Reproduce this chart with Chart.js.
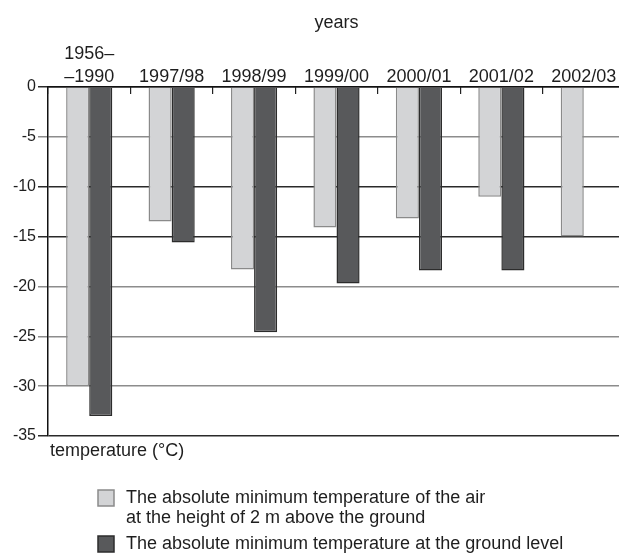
<!DOCTYPE html>
<html>
<head>
<meta charset="utf-8">
<script src="https://cdn.jsdelivr.net/npm/chart.js@4/dist/chart.umd.min.js"></script>
<style>
    html, body { margin: 0; background: #fff; overflow: hidden; }
    /* the original figure is cut a few pixels short on the right */
    #wrap { width: 619px; height: 554px; overflow: hidden; }
</style>
</head>
<body>
<div id="wrap"><canvas id="tempChart" width="625" height="554"></canvas></div>
<script>
// Winter seasons (x categories)
const seasons = [['1956\u2013', '\u20131990'], '1997/98', '1998/99', '1999/00', '2000/01', '2001/02', '2002/03'];

// Absolute minimum temperatures (°C)
const airMin = [-30, -13.5, -18.3, -14.1, -13.2, -11.0, -15.0];
const groundMin = [-33, -15.6, -24.6, -19.7, -18.4, -18.4, null];

const seriesLabels = [
    'The absolute minimum temperature of the air\nat the height of 2 m above the ground',
    'The absolute minimum temperature at the ground level'
];

const yTicks = { min: -35, max: 0, step: 5 };

const FONT = "'Liberation Sans', Arial, sans-serif";
const TEXT_COLOR = '#1e1e1e';
const LIGHT = '#d3d4d6';
const DARK = '#58595b';

// Draws the y-axis caption and the legend below the plot
const extrasPlugin = {
    id: 'extras',
    afterDraw(chart) {
        const ctx = chart.ctx;
        const area = chart.chartArea;
        ctx.save();
        ctx.fillStyle = TEXT_COLOR;
        ctx.font = '18px ' + FONT;
        ctx.textBaseline = 'alphabetic';
        ctx.textAlign = 'left';
        ctx.fillText('temperature (\u00B0C)', area.left + 2, area.bottom + 20);

        // legend
        let top = 490;
        chart.data.datasets.forEach((ds) => {
            ctx.fillStyle = ds.backgroundColor;
            ctx.strokeStyle = ds.borderColor;
            ctx.lineWidth = 1.5;
            ctx.fillRect(98, top, 16, 16);
            ctx.strokeRect(98, top, 16, 16);
            const lines = ds.label.split('\n');
            ctx.fillStyle = TEXT_COLOR;
            lines.forEach((line, i) => {
                ctx.fillText(line, 126, top + 13 + i * 20);
            });
            top += lines.length * 20 + 6;
        });
        ctx.restore();
    }
};

const ctx = document.getElementById('tempChart').getContext('2d');
new Chart(ctx, {
    type: 'bar',
    data: {
        labels: seasons,
        datasets: [
            {
                label: seriesLabels[0],
                data: airMin,
                backgroundColor: LIGHT,
                borderColor: '#8a8a8a',
                borderWidth: 1.5
            },
            {
                label: seriesLabels[1],
                data: groundMin,
                backgroundColor: DARK,
                borderColor: '#2c2c2c',
                borderWidth: 1.5
            }
        ]
    },
    options: {
        responsive: false,
        animation: false,
        layout: {
            padding: { top: 0, left: 0, right: 0, bottom: 118 }
        },
        plugins: {
            legend: { display: false },
            tooltip: { enabled: false }
        },
        datasets: {
            bar: {
                categoryPercentage: 0.56,
                barPercentage: 1
            }
        },
        scales: {
            x: {
                position: 'top',
                grid: {
                    drawOnChartArea: false,
                    tickLength: -7,
                    color: '#222',
                    lineWidth: 1.2
                },
                border: { color: '#111', width: 1.5 },
                ticks: {
                    color: TEXT_COLOR,
                    padding: 6,
                    maxRotation: 0,
                    autoSkip: false,
                    font: { family: FONT, size: 18, lineHeight: 1.25 }
                },
                title: {
                    display: true,
                    text: 'years',
                    color: TEXT_COLOR,
                    padding: { top: 12, bottom: 0 },
                    font: { family: FONT, size: 18 }
                },
                afterFit(scale) {
                    scale.height = 87;
                }
            },
            y: {
                min: yTicks.min,
                max: yTicks.max,
                grid: {
                    tickLength: 10,
                    lineWidth: 1.5,
                    color: (c) => ([-5, -20, -25, -30].includes(c.tick && c.tick.value) ? '#8c8c8c' : '#2a2a2a')
                },
                border: { color: '#111', width: 1.5 },
                ticks: {
                    stepSize: yTicks.step,
                    color: TEXT_COLOR,
                    padding: 2,
                    font: { family: FONT, size: 16 }
                },
                afterFit(scale) {
                    scale.width = 48;
                }
            }
        }
    },
    plugins: [extrasPlugin]
});
</script>
</body>
</html>
